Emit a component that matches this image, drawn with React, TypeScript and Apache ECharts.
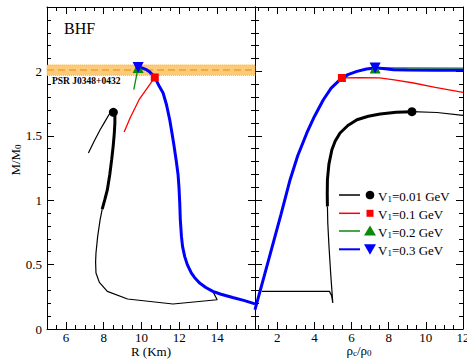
import React, { useEffect, useRef } from 'react';
import * as echarts from 'echarts';

const FONT = '"Liberation Serif", "Times New Roman", serif';

// ---- axis ranges / tick labels ----
const R_RANGE = [5, 16];
const RHO_RANGE = [0.8, 12];
const M_RANGE = [0, 2.5];
const R_TICKS = [6, 8, 10, 12, 14];
const RHO_TICKS = [2, 4, 6, 8, 10, 12];

// ---- PSR J0348+0432 band ----
const PSR_BAND = [1.97, 2.05];
const PSR_CENTER = 2.01;

// ---- left panel: M vs R ----
const blackLeftThinLow = [[13.77, 0.292], [14.0, 0.227], [11.66, 0.194], [9.26, 0.233], [8.19, 0.292], [7.77, 0.362], [7.59, 0.435], [7.57, 0.52], [7.59, 0.59], [7.68, 0.719], [7.81, 0.849], [7.92, 0.93]];
const blackLeftThick = [[7.92, 0.93], [8.05, 1.0], [8.19, 1.08], [8.32, 1.2], [8.42, 1.315], [8.5, 1.42], [8.56, 1.52], [8.59, 1.6], [8.59, 1.651], [8.56, 1.675], [8.51, 1.682]];
const blackLeftThinHigh = [[8.51, 1.682], [8.33, 1.677], [8.07, 1.612], [7.81, 1.547], [7.5, 1.46], [7.19, 1.366]];
const sharedLeft = [[16.0, 0.195], [15.4, 0.222], [14.82, 0.245], [14.2, 0.27], [13.77, 0.292], [13.4, 0.322], [13.07, 0.357], [12.8, 0.4], [12.63, 0.435], [12.42, 0.5], [12.28, 0.564], [12.17, 0.64], [12.11, 0.719], [12.05, 0.85], [12.02, 0.978], [11.98, 1.1], [11.93, 1.2], [11.84, 1.3], [11.72, 1.42], [11.6, 1.53], [11.49, 1.625], [11.32, 1.741], [11.14, 1.832], [10.96, 1.878]];
const redLeftTail = [[10.7, 1.953], [10.3, 1.87], [9.87, 1.78], [9.4, 1.64], [9.08, 1.53]];
const blueLeftTop = [[10.8, 1.925], [10.61, 1.969], [10.4, 2.0], [10.26, 2.013], [10.05, 2.026], [9.82, 2.031]];
const greenLeftTail = [[9.59, 1.858]];

// ---- right panel: M vs rho_c/rho_0 ----
const blackRightThinLow = [[1.16, 0.292], [4.81, 0.292], [4.92, 0.26], [4.99, 0.202], [4.88, 0.42], [4.78, 0.65], [4.72, 0.82], [4.7, 0.952]];
const blackRightThick = [[4.7, 0.952], [4.69, 1.05], [4.7, 1.159], [4.78, 1.28], [4.94, 1.392], [5.12, 1.46], [5.38, 1.522], [5.8, 1.58], [6.29, 1.625], [6.9, 1.652], [7.54, 1.669], [8.4, 1.682], [9.25, 1.687]];
const blackRightThinHigh = [[9.25, 1.687], [10.6, 1.681], [12, 1.658]];
const sharedRight = [[0.8, 0.15], [1.5, 0.52], [2.2, 0.89], [2.69, 1.159], [3.1, 1.345], [3.59, 1.522], [4.0, 1.65], [4.48, 1.78], [4.9, 1.87], [5.38, 1.936]];
const redRightTail = [[5.48, 1.949], [6.5, 1.952], [7.5, 1.95], [8.3, 1.935], [9.34, 1.91], [10.5, 1.876], [12, 1.837]];
const blueRightTop = [[5.8, 1.975], [6.29, 2.0], [6.8, 2.018], [7.27, 2.026], [7.7, 2.022], [8.26, 2.013], [9, 2.01], [10.5, 2.009], [12, 2.008]];
const greenRightTail = [[8, 2.027], [12, 2.026]];

// ---- maximum-mass markers ----
const blackMaxLeft = [8.51, 1.682];
const blackMaxRight = [9.25, 1.687];
const redMaxLeft = [10.7, 1.953];
const redMaxRight = [5.48, 1.949];
const greenMaxLeft = [9.82, 2.031];
const greenMaxRight = [7.27, 2.026];
const blueMaxLeft = [9.82, 2.031];
const blueMaxRight = [7.27, 2.026];

// ---- legend ----
const LEGEND_V1 = ['0.01', '0.1', '0.2', '0.3'];
const COLORS = ['#000000', '#ff0000', '#0a8a0a', '#0000ff'];

const minorValues = (lo: number, hi: number) => {
  const out: number[] = [];
  for (let v = lo; v <= hi + 1e-9; v += 0.5) {
    if (Math.abs(v / 2 - Math.round(v / 2)) > 1e-6) out.push(+v.toFixed(2));
  }
  return out;
};

const RICH = {
  n: { fontFamily: FONT, fontSize: 13, color: '#000', lineHeight: 16, verticalAlign: 'bottom' },
  s: { fontFamily: FONT, fontSize: 9, color: '#000', lineHeight: 8, verticalAlign: 'bottom' },
};
const RICH_NAME = {
  n: { fontFamily: FONT, fontSize: 13, color: '#000', lineHeight: 12, verticalAlign: 'bottom' },
  s: { fontFamily: FONT, fontSize: 9, color: '#000', lineHeight: 5, verticalAlign: 'bottom' },
};

const LS = { color: '#000', width: 1 };

function xMain(grid: number, range: number[], pos: string, majors: number[], labels: boolean, extra: any = {}) {
  return {
    type: 'value', gridIndex: grid, position: pos, min: range[0], max: range[1],
    axisLine: { show: true, onZero: false, lineStyle: LS },
    axisTick: { show: true, inside: true, length: 7, customValues: majors, lineStyle: LS },
    axisLabel: { show: labels, customValues: majors, fontFamily: FONT, fontSize: 13, lineHeight: 11, color: '#000', margin: 3 },
    splitLine: { show: false },
    ...extra,
  };
}
function xMinor(grid: number, range: number[], pos: string, minors: number[]) {
  return {
    type: 'value', gridIndex: grid, position: pos, min: range[0], max: range[1],
    axisLine: { show: false, onZero: false },
    axisTick: { show: true, inside: true, length: 4, customValues: minors, lineStyle: LS },
    axisLabel: { show: false },
    splitLine: { show: false },
  };
}
function yMain(grid: number, pos: string, labels: boolean) {
  return {
    type: 'value', gridIndex: grid, position: pos, min: M_RANGE[0], max: M_RANGE[1], interval: 0.5,
    axisLine: { show: true, onZero: false, lineStyle: LS },
    axisTick: { show: true, inside: true, length: 7, lineStyle: LS },
    minorTick: { show: true, splitNumber: 5, length: 4, lineStyle: LS },
    axisLabel: { show: labels, showMaxLabel: false, fontFamily: FONT, fontSize: 13, color: '#000', margin: 5 },
    splitLine: { show: false },
    minorSplitLine: { show: false },
  };
}

function line(name: string, data: number[][], xi: number, yi: number, color: string, width: number, z: number, extra: any = {}) {
  return {
    type: 'line', name, data, xAxisIndex: xi, yAxisIndex: yi, symbol: 'none', smooth: false,
    lineStyle: { color, width }, itemStyle: { color }, z, silent: true, ...extra,
  };
}
function marker(name: string, pts: number[][], xi: number, yi: number, color: string, symbol: string, size: number, rotate = 0) {
  return {
    type: 'scatter', name, data: pts, xAxisIndex: xi, yAxisIndex: yi, symbol, symbolSize: size,
    symbolRotate: rotate, itemStyle: { color, opacity: 1 }, z: 10, silent: true,
  };
}

const GRID_BASE = { containLabel: false, outerBoundsMode: 'none' };
const G0 = { left: 47, top: 7, width: 208, height: 322, ...GRID_BASE };
const G1 = { left: 255, top: 7, width: 208, height: 322, ...GRID_BASE };

const legendRowsY = [195, 213.3, 231, 249.3];

function buildLegend() {
  const els: any[] = [];
  LEGEND_V1.forEach((v, i) => {
    const y = legendRowsY[i];
    const c = COLORS[i];
    els.push({ type: 'line', shape: { x1: 339, y1: y, x2: 360, y2: y }, style: { stroke: c, lineWidth: i === 3 ? 2 : 1.5 } });
    if (i === 0) els.push({ type: 'circle', shape: { cx: 370, cy: y, r: 4.3 }, style: { fill: c } });
    if (i === 1) els.push({ type: 'rect', shape: { x: 366.5, y: y - 3.5, width: 7, height: 7 }, style: { fill: c } });
    if (i === 2) els.push({ type: 'polygon', shape: { points: [[370, y - 5.5], [376, y + 4.5], [364, y + 4.5]] }, style: { fill: c } });
    if (i === 3) els.push({ type: 'polygon', shape: { points: [[364, y - 5], [376, y - 5], [370, y + 5.5]] }, style: { fill: c } });
    els.push({
      type: 'text', x: 378, y,
      style: { text: `{n|V}{s|1}{n|=${v} GeV}`, rich: RICH, align: 'left', verticalAlign: 'middle' },
    });
  });
  return els;
}

const option: any = {
  animation: false,
  backgroundColor: '#fff',
  grid: [G0, G1, G0, G1],
  xAxis: [
    xMain(0, R_RANGE, 'bottom', R_TICKS, true, {
      name: 'R (Km)', nameLocation: 'middle', nameGap: 16, nameMoveOverlap: false,
      nameTextStyle: { fontFamily: FONT, fontSize: 13, lineHeight: 13, color: '#000' },
    }),
    xMain(0, R_RANGE, 'top', R_TICKS, false),
    xMain(1, RHO_RANGE, 'bottom', RHO_TICKS, true, {
      name: '{n|ρ}{s|c}{n|/ρ}{s|0}', nameLocation: 'middle', nameGap: 16, nameMoveOverlap: false,
      nameTextStyle: { rich: RICH_NAME },
    }),
    xMain(1, RHO_RANGE, 'top', RHO_TICKS, false),
    xMinor(2, R_RANGE, 'bottom', minorValues(5.5, 15.5)),
    xMinor(2, R_RANGE, 'top', minorValues(5.5, 15.5)),
    xMinor(3, RHO_RANGE, 'bottom', minorValues(1, 11.5)),
    xMinor(3, RHO_RANGE, 'top', minorValues(1, 11.5)),
  ],
  yAxis: [
    yMain(0, 'left', true),
    yMain(0, 'right', false),
    yMain(1, 'left', false),
    yMain(1, 'right', false),
    { type: 'value', gridIndex: 2, min: 0, max: 2.5, show: false },
    { type: 'value', gridIndex: 3, min: 0, max: 2.5, show: false },
  ],
  series: [
    line('V1=0.01 GeV', blackLeftThinLow, 0, 0, COLORS[0], 1.2, 2, {
      markArea: {
        silent: true,
        itemStyle: { color: '#FCCB7A', borderColor: '#F2AE45', borderWidth: 1, borderType: 'dotted' },
        data: [[{ yAxis: PSR_BAND[0] }, { yAxis: PSR_BAND[1] }]],
      },
      markLine: {
        silent: true, symbol: 'none', label: { show: false },
        lineStyle: { color: '#F0A030', width: 1.5, type: [7, 4] },
        data: [{ yAxis: PSR_CENTER }],
      },
    }),
    line('V1=0.01 GeV', blackLeftThick, 0, 0, COLORS[0], 3, 2),
    line('V1=0.01 GeV', blackLeftThinHigh, 0, 0, COLORS[0], 1.2, 2),
    line('V1=0.1 GeV', [...sharedLeft, ...redLeftTail], 0, 0, COLORS[1], 1.3, 3),
    line('V1=0.2 GeV', [...sharedLeft, ...blueLeftTop, ...greenLeftTail], 0, 0, COLORS[2], 1.3, 4),
    line('V1=0.3 GeV', [...sharedLeft, ...blueLeftTop], 0, 0, COLORS[3], 3, 5),

    line('V1=0.01 GeV', blackRightThinLow, 2, 2, COLORS[0], 1.2, 2),
    line('V1=0.01 GeV', blackRightThick, 2, 2, COLORS[0], 3, 2),
    line('V1=0.01 GeV', blackRightThinHigh, 2, 2, COLORS[0], 1.2, 2),
    line('V1=0.1 GeV', [...sharedRight, ...redRightTail], 2, 2, COLORS[1], 1.3, 3),
    line('V1=0.2 GeV', [...sharedRight, ...blueRightTop.slice(0, 4), ...greenRightTail], 2, 2, COLORS[2], 1.3, 4),
    line('V1=0.3 GeV', [...sharedRight, ...blueRightTop], 2, 2, COLORS[3], 3, 5),

    marker('max 0.01', [blackMaxLeft], 0, 0, COLORS[0], 'circle', 9),
    marker('max 0.01', [blackMaxRight], 2, 2, COLORS[0], 'circle', 9),
    marker('max 0.1', [redMaxLeft], 0, 0, COLORS[1], 'rect', 8),
    marker('max 0.1', [redMaxRight], 2, 2, COLORS[1], 'rect', 8),
    marker('max 0.2', [greenMaxLeft], 0, 0, COLORS[2], 'triangle', 11),
    marker('max 0.2', [greenMaxRight], 2, 2, COLORS[2], 'triangle', 11),
    marker('max 0.3', [blueMaxLeft], 0, 0, COLORS[3], 'triangle', 11, 180),
    marker('max 0.3', [blueMaxRight], 2, 2, COLORS[3], 'triangle', 11, 180),
  ],
  graphic: [
    { type: 'text', x: 64, y: 28, style: { text: 'BHF', fontFamily: FONT, fontSize: 16, fill: '#000', align: 'left', verticalAlign: 'middle' } },
    { type: 'text', x: 52, y: 81, z: 20, style: { text: 'PSR J0348+0432', fontFamily: FONT, fontSize: 9.5, fontWeight: 'bold', fill: '#000', align: 'left', verticalAlign: 'middle' } },
    {
      type: 'text', x: 14, y: 160, rotation: Math.PI / 2,
      style: { text: '{n|M/M}{s|0}', rich: RICH, align: 'center', verticalAlign: 'middle' },
    },
    ...buildLegend(),
  ],
};

export default function App() {
  const ref = useRef<HTMLDivElement>(null);
  useEffect(() => {
    const chart = echarts.init(ref.current!, null, { renderer: 'svg' });
    chart.setOption(option);
    return () => chart.dispose();
  }, []);
  return <div ref={ref} style={{ position: 'fixed', left: 0, top: 0, width: 467, height: 359, background: '#fff' }} />;
}
